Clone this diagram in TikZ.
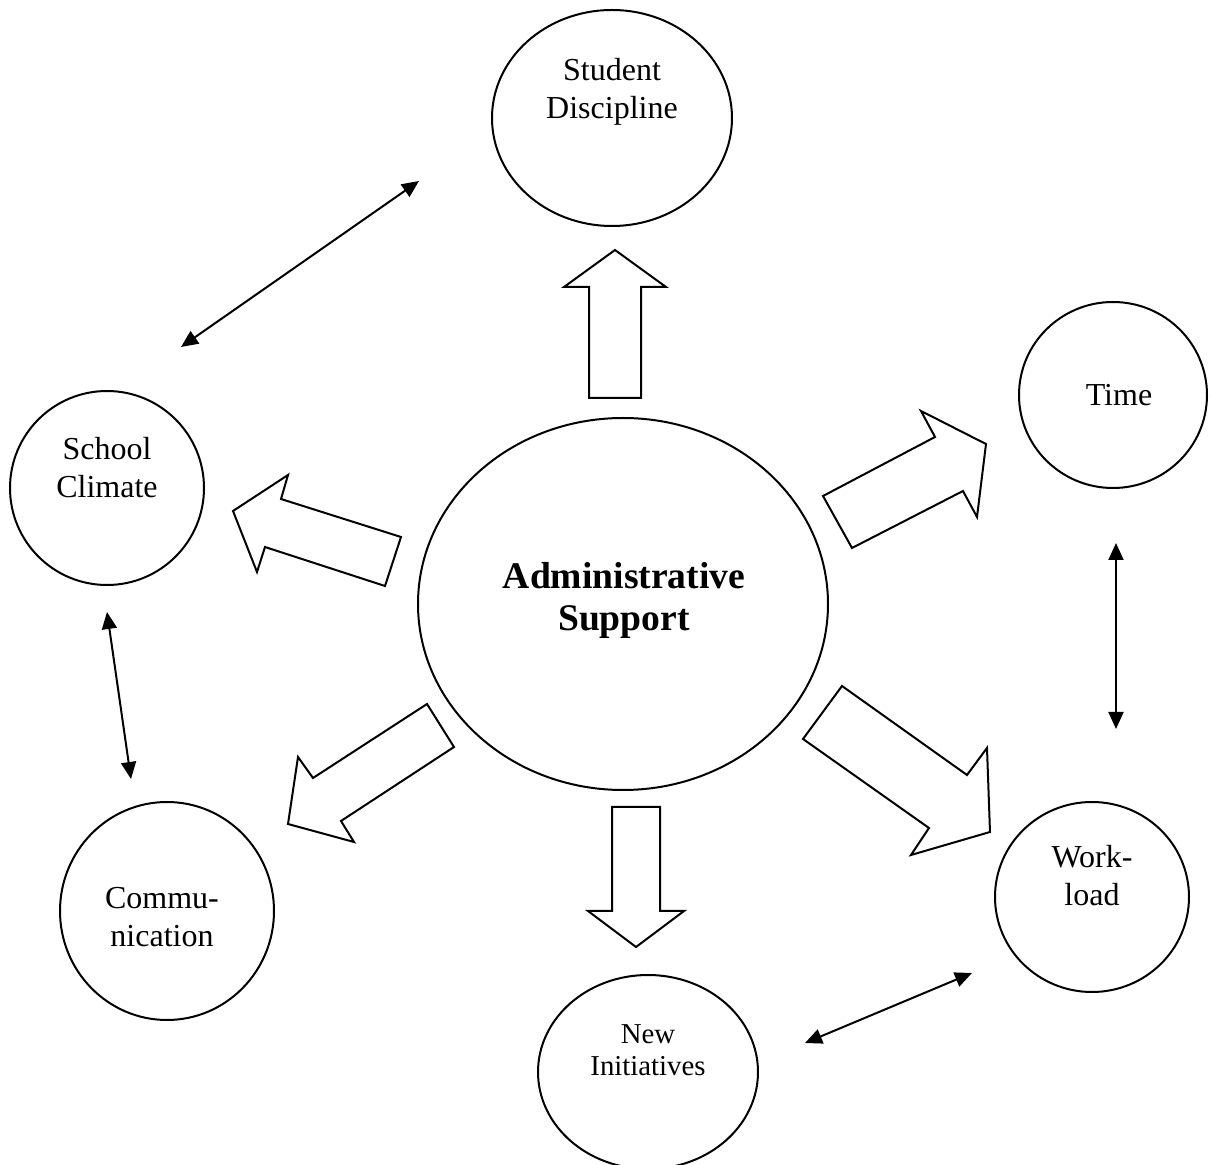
\documentclass[tikz,border=0pt]{standalone}
\usepackage{fontspec}
\setmainfont{Liberation Serif}
\usetikzlibrary{shapes.geometric,arrows.meta}

\tikzset{
	bubble/.style={ellipse,draw,line width=1pt,inner sep=0pt},
	caption/.style={align=center,inner sep=0pt,font=\fontsize{16}{19}\selectfont},
	blockarrow/.style={draw,line width=1pt,line join=miter,fill=white},
	link/.style={{Triangle[length=8.5pt,width=7.5pt]}-{Triangle[length=8.5pt,width=7.5pt]},line width=1pt}
}

\begin{document}
\begin{tikzpicture}[x=0.5pt,y=-0.5pt]
\useasboundingbox (0,0) rectangle (1212,1165);

% circles
\node[bubble,minimum width=205pt,minimum height=186pt] (admin) at (623,604) {};
\node[bubble,minimum width=120pt,minimum height=108pt] (disc) at (612,118) {};
\node[bubble,minimum width=94pt,minimum height=93pt] (time) at (1113,395) {};
\node[bubble,minimum width=97pt,minimum height=97pt] (climate) at (107,488) {};
\node[bubble,minimum width=107pt,minimum height=109pt] (comm) at (167,911) {};
\node[bubble,minimum width=110pt,minimum height=97pt] (initiatives) at (648,1072) {};
\node[bubble,minimum width=97pt,minimum height=95pt] (workload) at (1092,897) {};

% texts
\node[caption,font=\fontsize{18.8}{21}\selectfont\bfseries] (adminT) at (624,600) {Administrative\\Support};
\node[caption] (discT) at (612,92) {Student\\Discipline};
\node[caption] (timeT) at (1119,395) {Time};
\node[caption] (climateT) at (107,468) {School\\Climate};
\node[caption] (commT) at (162,917) {Commu-\\nication};
\node[caption,font=\fontsize{14.4}{16}\selectfont] (initiativesT) at (648,1050) {New\\Initiatives};
\node[caption] (workloadT) at (1092,876) {Work-\\load};

% block arrows out of the centre
\draw[blockarrow] (589,398) -- (589,287) -- (564,287) -- (615,250) -- (666,287) -- (641,287) -- (641,398) -- cycle;
\draw[blockarrow] (612,807) -- (612,911) -- (588,911) -- (636,947) -- (684,911) -- (660,911) -- (660,807) -- cycle;
\draw[blockarrow] (823,496) -- (935,437) -- (921,411) -- (986,444) -- (977,517) -- (963,491) -- (852,548) -- cycle;
\draw[blockarrow] (233,511) -- (288,475) -- (281,499) -- (401,537) -- (385,586) -- (265,547) -- (257,572) -- cycle;
\draw[blockarrow] (427,704) -- (454,747) -- (341,821) -- (354,842) -- (288,824) -- (298,757) -- (313,778) -- cycle;
\draw[blockarrow] (842,686) -- (967,775) -- (987,748) -- (990,832) -- (911,855) -- (929,828) -- (803,739) -- cycle;

% two-way links
\coordinate (discL) at (419,181);
\coordinate (climateU) at (181,347);
\coordinate (climateD) at (107,612);
\coordinate (commU) at (131,779);
\coordinate (timeD) at (1116,543);
\coordinate (workloadU) at (1116,729);
\coordinate (workloadL) at (972,973);
\coordinate (initiativesR) at (805,1043);
\draw[link] (climateU) -- (discL);
\draw[link] (climateD) -- (commU);
\draw[link] (timeD) -- (workloadU);
\draw[link] (initiativesR) -- (workloadL);
\end{tikzpicture}
\end{document}
